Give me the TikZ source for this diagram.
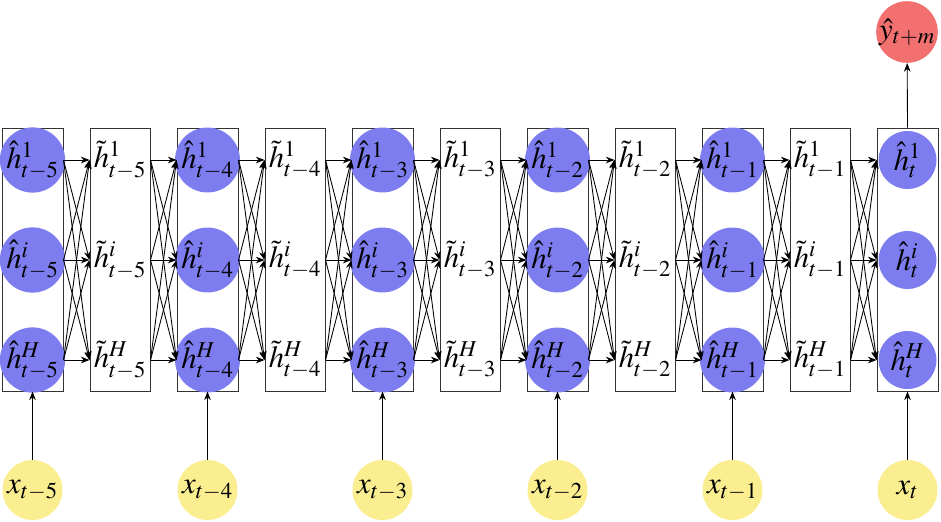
\documentclass[tikz,border=0pt]{standalone}
\usepackage{mathptmx}
\usetikzlibrary{arrows.meta}
\definecolor{cblue}{RGB}{125,125,240}
\definecolor{cred}{RGB}{242,112,112}
\definecolor{cyel}{RGB}{250,238,145}
\tikzset{
  layerbox/.style={draw=black!80, line width=0.75pt, minimum width=45.75pt, minimum height=197.25pt, inner sep=0pt},
  hcirc/.style={circle, fill=cblue, minimum size=43.5pt, inner sep=0pt, font=\fontsize{23}{27}\selectfont},
  xcirc/.style={circle, fill=cyel, minimum size=45pt, inner sep=0pt, font=\fontsize{23}{27}\selectfont},
  ycirc/.style={circle, fill=cred, minimum size=43.5pt, inner sep=0pt, font=\fontsize{23}{27}\selectfont},
  htxt/.style={inner sep=0pt, font=\fontsize{23}{27}\selectfont},
  arr/.style={-{Stealth[length=6.5pt,width=5pt]}, line width=0.65pt, black}
}
\begin{document}
\begin{tikzpicture}[x=0.75pt,y=-0.75pt]
\useasboundingbox (0,0) rectangle (941,521);
% blue boxes
\foreach \s [count=\k from 0] in {t-5,t-4,t-3,t-2,t-1,t}{
  \node[layerbox] (B\k) at (32.5+175*\k,259.5) {};
  \node[hcirc] (C\k-1) at (32.5+175*\k,160) {$\hat{h}^{1}_{\s}$};
  \node[hcirc] (C\k-2) at (32.5+175*\k,260) {$\hat{h}^{i}_{\s}$};
  \node[hcirc] (C\k-3) at (32.5+175*\k,360) {$\hat{h}^{H}_{\s}$};
  \node[xcirc] (X\k) at (32.5+175*\k,490) {$x_{\s}$};
  \draw[arr] (X\k) -- (B\k.south);
}
% white boxes
\foreach \s [count=\k from 0] in {t-5,t-4,t-3,t-2,t-1}{
  \node[layerbox, minimum width=45pt] (W\k) at (120+175*\k,259.5) {};
  \node[htxt] (T\k-1) at (120+175*\k,160) {$\tilde{h}^{1}_{\s}$};
  \node[htxt] (T\k-2) at (120+175*\k,260) {$\tilde{h}^{i}_{\s}$};
  \node[htxt] (T\k-3) at (120+175*\k,360) {$\tilde{h}^{H}_{\s}$};
}
% connections
\foreach \k [evaluate=\k as \kk using int(\k+1)] in {0,...,4}{
  \foreach \i in {1,2,3}{
    \foreach \j in {1,2,3}{
      \draw[arr] (B\k.east |- C\k-\i) -- (W\k.west |- T\k-\j);
      \draw[arr] (W\k.east |- T\k-\i) -- (B\kk.west |- C\kk-\j);
    }
  }
}
% output
\node[ycirc] (Y) at (907,32) {$\hat{y}_{t+m}$};
\draw[arr] (B5.north) -- (Y);
\end{tikzpicture}
\end{document}
